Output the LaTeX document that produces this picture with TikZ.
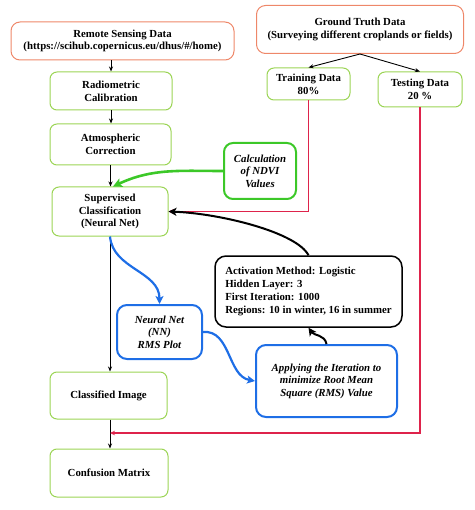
\documentclass[tikz,border=0pt]{standalone}
\usepackage{fontspec}
\setmainfont{Liberation Serif}
\usetikzlibrary{arrows.meta}
\definecolor{lime}{RGB}{155,212,85}
\definecolor{salmon}{RGB}{238,135,105}
\definecolor{ndvigreen}{RGB}{60,200,40}
\definecolor{boxblue}{RGB}{30,110,230}
\definecolor{linered}{RGB}{222,35,75}
\tikzset{
  base/.style={rectangle, align=center, inner sep=2pt, font=\fontsize{10.8}{12.8}\selectfont\bfseries},
  gbox/.style={base, draw=lime, line width=1pt, rounded corners=7pt},
  obox/.style={base, draw=salmon, line width=1pt, rounded corners=9pt},
  ndvibox/.style={base, draw=ndvigreen, line width=2pt, rounded corners=9pt, font=\fontsize{10.8}{12.6}\selectfont\bfseries\itshape},
  bbox/.style={base, draw=boxblue, line width=2pt, rounded corners=10pt, font=\fontsize{10.8}{12.6}\selectfont\bfseries\itshape},
  kbox/.style={base, draw=black, line width=1.5pt, rounded corners=11pt, align=left, inner sep=6pt},
  sz/.style 2 args={minimum width=#1pt, minimum height=#2pt},
  karrow/.style={-{Stealth[length=5pt,width=4pt]}, line width=0.9pt},
  redline/.style={draw=linered, line width=1.6pt, -{Stealth[length=5pt,width=4.5pt]}},
  bluearrow/.style={draw=boxblue, line width=2.2pt, -{Stealth[length=8pt,width=8pt,inset=2pt]}},
  greenarrow/.style={draw=ndvigreen, line width=2.6pt, -{Stealth[length=9pt,width=9pt,inset=2pt]}},
  blackcurve/.style={draw=black, line width=2pt, -{Stealth[length=8pt,width=8pt,inset=2pt]}},
}
\begin{document}
\begin{tikzpicture}[x=1pt,y=-1pt]
\useasboundingbox (0,0) rectangle (474,510);
% left column
\node[obox, sz={223}{38}] (rs) at (122.5,41) {Remote Sensing Data\\(https://scihub.copernicus.eu/dhus/\#/home)};
\node[gbox, sz={122}{38}] (rad) at (111,91) {Radiometric\\Calibration};
\node[gbox, sz={121}{41}] (atm) at (110.5,144.5) {Atmospheric\\Correction};
\node[gbox, sz={116}{49}] (sup) at (110,211.5) {Supervised\\Classification\\(Neural Net)};
\node[gbox, sz={117}{47}] (cls) at (108.5,395.5) {Classified Image};
\node[gbox, sz={118}{48}] (conf) at (109,473) {Confusion Matrix};
% right side
\node[obox, sz={207}{48}] (gt) at (360,29.5) {Ground Truth Data\\(Surveying different croplands or fields)};
\node[gbox, sz={83}{32}] (train) at (308.5,84) {Training Data\\80\%};
\node[gbox, sz={84}{35}] (test) at (420,89.5) {Testing Data\\20 \%};
\node[ndvibox, sz={72}{56}] (ndvi) at (260,171) {Calculation\\of NDVI\\Values};
\node[kbox, sz={187}{71}] (act) at (308.5,291.5) {Activation Method: Logistic\\Hidden Layer: 3\\First Iteration: 1000\\Regions: 10 in winter, 16 in summer};
\node[bbox, sz={85}{54}] (nn) at (159.5,332) {Neural Net\\(NN)\\RMS Plot};
\node[bbox, sz={141}{72}] (app) at (326.5,381) {Applying the Iteration to\\minimize Root Mean\\Square (RMS) Value};
\coordinate (m) at (110,433);
% connectors
\draw[karrow] (rad.north |- rs.south) -- (rad.north);
\draw[karrow] (rad.south) -- (rad.south |- atm.north);
\draw[karrow] (atm.south) -- (atm.south |- sup.north);
\draw[karrow] (sup.south) -- (sup.south |- cls.north);
\draw[karrow] (cls.south -| m) -- (m |- conf.north);
\draw[karrow] (gt.south) -- (train.north);
\draw[karrow] (gt.south) -- (test.north);
\draw[redline] (train.south) |- (sup.east);
\draw[redline] (test.south) |- (m);
\draw[blackcurve] (act.north) .. controls +(-12,-23) and +(52,2) .. (sup.east);
\draw[blackcurve] (app.north) to[out=100,in=-55] (act.south);
\draw[greenarrow] (ndvi.west) to[out=180,in=25] ([xshift=3pt]sup.north);
\draw[bluearrow] (sup.south) to[out=-85,in=90] (nn.north);
\draw[bluearrow] (nn.east) to[out=5,in=170] (app.west);
\end{tikzpicture}
\end{document}
